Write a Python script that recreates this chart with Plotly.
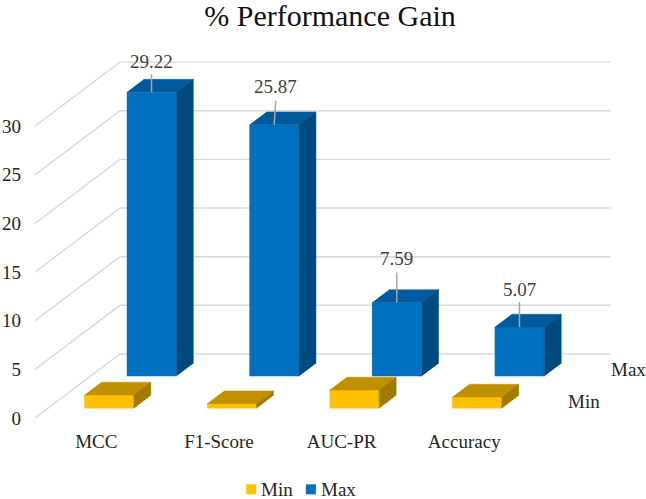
import plotly.graph_objects as go

categories = ["MCC", "F1-Score", "AUC-PR", "Accuracy"]
series_names = ["Min", "Max"]
min_values = [1.37, 0.48, 1.89, 1.17]
max_values = [29.22, 25.87, 7.59, 5.07]
y_ticks = [0, 5, 10, 15, 20, 25, 30]
shown_labels = ["29.22", "25.87", "7.59", "5.07"]

W, H = 646, 499
FONT = "Liberation Serif"
TXT = 19
PX_X = 122.7          # pixels per category
PX_Y = 9.72           # pixels per value unit
LEFT, BOTTOM = 34.7, 417.7
DX = 42.5 / PX_X      # oblique shift per series slot, in category units
DY = 32.0 / PX_Y      # oblique shift per series slot, in value units
BAR_W = 0.404
BAR_D = 0.4
GAP_D = 0.3
LEADER_LIFT = [18, 24, 30, 25]   # px
LABEL_LIFT = [31, 38, 44, 38]    # px
LABEL_NUDGE = [0, 1.5, 0, 0]     # px


def proj(c, v, d):
    return c + d * DX, v + d * DY


STYLE = {
    "Min": dict(front="#FFC000", top="#BF9000", side="#A37B00"),
    "Max": dict(front="#0070C0", top="#005A9C", side="#004A80"),
}

fig = go.Figure()
shapes = []
annotations = []

# walls' gridlines
for v in y_ticks:
    x0, y0 = proj(0, v, 0)
    x1, y1 = proj(0, v, 2)
    x2, y2 = proj(len(categories), v, 2)
    shapes.append(dict(type="path", layer="below", xref="x", yref="y",
                       path=f"M{x0},{y0}L{x1},{y1}L{x2},{y2}",
                       line=dict(color="#D9D9D9", width=1.4)))

# back series first so the front one sits over it
for s in (1, 0):
    name = series_names[s]
    vals = max_values if s == 1 else min_values
    st = STYLE[name]
    d0 = s + GAP_D
    xs = [i + 0.5 + d0 * DX for i in range(len(vals))]
    fig.add_trace(go.Bar(x=xs, y=vals, base=[d0 * DY] * len(vals), width=BAR_W, name=name,
                         marker=dict(color=st["front"], line=dict(width=0)),
                         showlegend=False, hoverinfo="skip"))
    for i, v in enumerate(vals):
        l, r = i + 0.5 - BAR_W / 2, i + 0.5 + BAR_W / 2
        d1 = d0 + BAR_D
        top = [proj(l, v, d0), proj(r, v, d0), proj(r, v, d1), proj(l, v, d1)]
        side = [proj(r, 0, d0), proj(r, v, d0), proj(r, v, d1), proj(r, 0, d1)]
        for poly, col in ((top, st["top"]), (side, st["side"])):
            fig.add_trace(go.Scatter(x=[p[0] for p in poly], y=[p[1] for p in poly],
                                     mode="lines", fill="toself", fillcolor=col,
                                     line=dict(width=0.5, color=col),
                                     showlegend=False, hoverinfo="skip"))

# data labels with leader lines on the back series
for i, v in enumerate(max_values):
    x, y = proj(i + 0.5, v, 1 + GAP_D)
    fig.add_trace(go.Scatter(x=[x, x + LABEL_NUDGE[i] / PX_X],
                             y=[y, y + LEADER_LIFT[i] / PX_Y],
                             mode="lines", line=dict(color="#A6A6A6", width=1.5),
                             showlegend=False, hoverinfo="skip"))
    annotations.append(dict(x=x, y=y + LABEL_LIFT[i] / PX_Y, xref="x", yref="y",
                            text=shown_labels[i], showarrow=False, xshift=LABEL_NUDGE[i],
                            xanchor="center", yanchor="middle",
                            font=dict(family=FONT, size=TXT, color="#404040")))

# depth axis labels
for s, name in enumerate(series_names):
    x, y = proj(len(categories), 0, s + 0.5)
    annotations.append(dict(x=x, y=y, xref="x", yref="y", text=name, showarrow=False,
                            xshift=19.5, xanchor="left", yanchor="middle",
                            font=dict(family=FONT, size=TXT, color="#262626")))

# legend row
for name, sx in zip(series_names, (246, 305.7)):
    shapes.append(dict(type="rect", xref="paper", yref="paper",
                       x0=(sx - LEFT) / (W - LEFT), x1=(sx + 10 - LEFT) / (W - LEFT),
                       y0=(BOTTOM - 494) / BOTTOM, y1=(BOTTOM - 484) / BOTTOM,
                       fillcolor=STYLE[name]["front"], line=dict(width=0)))
    annotations.append(dict(x=(sx + 13 - LEFT) / (W - LEFT), y=(BOTTOM - 489) / BOTTOM,
                            xref="paper", yref="paper", text=name, showarrow=False,
                            xanchor="left", yanchor="middle",
                            font=dict(family=FONT, size=TXT, color="#262626")))

fig.update_layout(
    width=W, height=H, autosize=False,
    margin=dict(l=LEFT, r=0, t=0, b=H - BOTTOM, pad=0),
    paper_bgcolor="white", plot_bgcolor="white",
    barmode="overlay", showlegend=False,
    title=dict(text="% Performance Gain", x=330 / W, xanchor="center",
               y=1 - 15.5 / H, yanchor="middle",
               font=dict(family=FONT, size=30, color="#111111")),
    shapes=shapes, annotations=annotations,
    xaxis=dict(range=[0, (W - LEFT) / PX_X], showgrid=False, zeroline=False, showline=False,
               tickmode="array", tickvals=[i + 0.5 for i in range(len(categories))],
               ticktext=categories, ticks="", ticklabelstandoff=10,
               tickfont=dict(family=FONT, size=TXT, color="#262626")),
    yaxis=dict(range=[0, BOTTOM / PX_Y], showgrid=False, zeroline=False, showline=False,
               tickmode="array", tickvals=y_ticks, ticks="", ticklabelstandoff=13,
               tickfont=dict(family=FONT, size=TXT, color="#262626")),
)

fig.write_html("out.html", config=dict(displayModeBar=False),
               post_script="document.body.style.margin='0';")
